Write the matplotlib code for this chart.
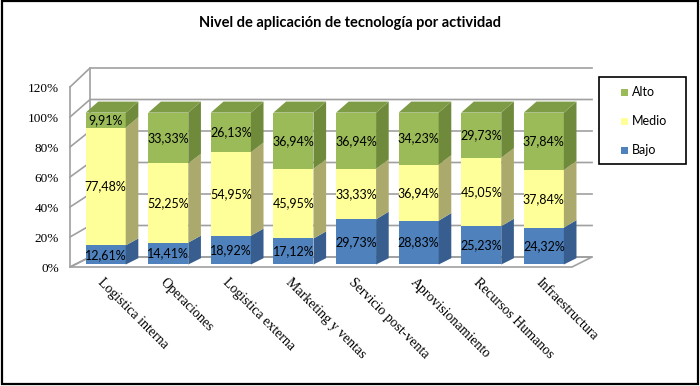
import matplotlib
matplotlib.use('Agg')
import matplotlib.pyplot as plt
from matplotlib.patches import Polygon, Rectangle

categorias = ['Logistica interna', 'Operaciones', 'Logistica externa', 'Marketing y ventas',
              'Servicio post-venta', 'Aprovisionamiento', 'Recursos Humanos', 'Infraestructura']
bajo = [12.61, 14.41, 18.92, 17.12, 29.73, 28.83, 25.23, 24.32]
medio = [77.48, 52.25, 54.95, 45.95, 33.33, 36.94, 45.05, 37.84]
alto = [9.91, 33.33, 26.13, 36.94, 36.94, 34.23, 29.73, 37.84]
niveles = ['Bajo', 'Medio', 'Alto']
yticks = [0, 20, 40, 60, 80, 100, 120]

# front, side, top colours
colores = {
    'Bajo': ('#4F81BD', '#375E8E', '#41699b'),
    'Medio': ('#FFFF99', '#ABAA6C', '#e6e68a'),
    'Alto': ('#9BBB59', '#6E8A3A', '#7E9C46'),
}

W, H = 700, 386
fig = plt.figure(figsize=(7, 3.86), dpi=100)
ax = fig.add_axes([70 / W, (H - 267) / H, (572 - 70) / W, (267 - 87) / H])
xl, xr = -0.49, 7.53
ax.set_xlim(xl, xr)
ax.set_ylim(0, 120)
ax.patch.set_visible(False)
for s in ax.spines.values():
    s.set_visible(False)

# oblique projection with a little vertical perspective
DX, DY, PERS = 0.32, 6.67, 0.05


def P(x, v, z):
    return (x + z * DX, v * (1 + PERS * z) + z * DY)


gris = '#A0A0A0'
# floor
floor = [P(xl, 0, 0), P(xr, 0, 0), P(xr, 0, 1), P(xl, 0, 1)]
ax.add_patch(Polygon(floor, closed=True, facecolor='white', edgecolor=gris, lw=1.2,
                     clip_on=False, zorder=1))
# walls and gridlines
for v in yticks:
    pts = [P(xl, v, 0), P(xl, v, 1), P(xr, v, 1)]
    ax.plot([p[0] for p in pts], [p[1] for p in pts], color=gris, lw=1.2,
            clip_on=False, zorder=1)
for z in (0, 1):
    a, b = P(xl, 0, z), P(xl, 120, z)
    ax.plot([a[0], b[0]], [a[1], b[1]], color=gris, lw=1.2, clip_on=False, zorder=1)

ax.set_xticks([])
ax.set_yticks(yticks)
ax.set_yticklabels(['%d%%' % t for t in yticks], family='Liberation Serif', fontsize=9.5)
ax.tick_params(axis='y', length=0, pad=8)

# bars
hw, z0, z1 = 0.32, 0.25, 0.88
datos = {'Bajo': bajo, 'Medio': medio, 'Alto': alto}
for i in range(len(categorias)):
    base = 0
    x0, x1 = i - hw, i + hw
    for k, nivel in enumerate(niveles):
        val = datos[nivel][i]
        top = base + val
        cf, cs, ct = colores[nivel]
        zo = 3 + i
        front = [P(x0, base, z0), P(x1, base, z0), P(x1, top, z0), P(x0, top, z0)]
        side = [P(x1, base, z0), P(x1, base, z1), P(x1, top, z1), P(x1, top, z0)]
        ax.add_patch(Polygon(front, closed=True, facecolor=cf, edgecolor='none',
                             clip_on=False, zorder=zo))
        ax.add_patch(Polygon(side, closed=True, facecolor=cs, edgecolor='none',
                             clip_on=False, zorder=zo))
        if k == len(niveles) - 1:
            tapa = [P(x0, top, z0), P(x1, top, z0), P(x1, top, z1), P(x0, top, z1)]
            ax.add_patch(Polygon(tapa, closed=True, facecolor=ct, edgecolor='none',
                                 clip_on=False, zorder=zo))
        cx, cy = P(i, base + val / 2, z0)
        ax.text(cx, cy, ('%.2f%%' % val).replace('.', ','), ha='center', va='center',
                family='Lato', fontsize=9, color='black', zorder=20)
        base = top

# category labels
for i, nombre in enumerate(categorias):
    ax.text(i + 0.06, -6.0, nombre, rotation=-45, rotation_mode='anchor',
            ha='left', va='top', family='Liberation Serif', fontsize=10, clip_on=False)

fig.text(0.5, 1 - 23 / H, 'Nivel de aplicación de tecnología por actividad',
         ha='center', va='center', family='Lato', fontweight='bold', fontsize=10.5)

# legend box
fig.add_artist(Rectangle((599 / W, 1 - 164 / H), 87 / W, 87 / H, transform=fig.transFigure,
                         facecolor='white', edgecolor='black', lw=1.2))
for j, nivel in enumerate(['Alto', 'Medio', 'Bajo']):
    yc = 92 + j * 29
    fig.add_artist(Rectangle((621 / W, 1 - (yc + 3.5) / H), 7 / W, 7 / H,
                             transform=fig.transFigure, facecolor=colores[nivel][0],
                             edgecolor='none'))
    fig.text(632 / W, 1 - yc / H, nivel, ha='left', va='center', family='Lato', fontsize=9)

# outer frame
fig.add_artist(Rectangle((1.5 / W, 1 - 384 / H), 696 / W, 383 / H, transform=fig.transFigure,
                         facecolor='none', edgecolor='black', lw=1.6))

fig.savefig('out.png', dpi=100)
